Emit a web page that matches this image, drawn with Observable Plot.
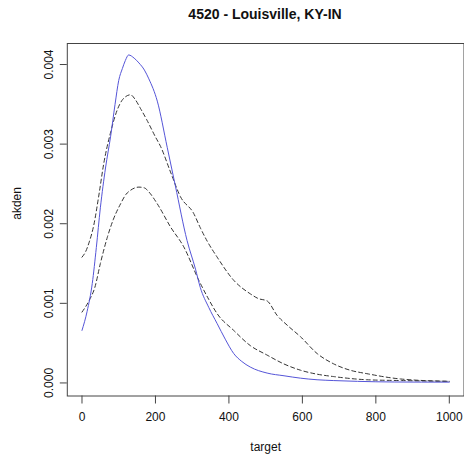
<!DOCTYPE html>
<html><head><meta charset="utf-8">
<script src="https://cdn.jsdelivr.net/npm/d3@7"></script>
<script src="https://cdn.jsdelivr.net/npm/@observablehq/plot@0.6"></script>
<style>
body{margin:0;background:#fff;font-family:"Liberation Sans",Arial,sans-serif;}
#title{height:30px;width:464px;position:relative;}
#title span{position:absolute;left:265px;top:5.6px;transform:translateX(-50%);font-weight:bold;font-size:14px;white-space:nowrap;color:#111;}
</style></head><body>
<div id="title"><span>4520 - Louisville, KY-IN</span></div>
<div id="chart"></div>
<script>
const titleText = "4520 - Louisville, KY-IN";
const xLabel = "target";
const yLabel = "akden";
const xTicks = [0, 200, 400, 600, 800, 1000];
const yTicks = [0, 0.001, 0.002, 0.003, 0.004];

// solid blue curve
const blueX = [0, 14, 28, 39, 50, 64, 78, 90, 100, 110, 118, 127, 142, 155, 170, 182, 205, 232, 254, 286, 309, 322, 345, 368, 390, 413, 435, 458, 504, 550, 595, 640, 684, 750, 850, 1000];
const blueY = [0.00066, 0.0009, 0.00125, 0.0017, 0.0022, 0.0027, 0.0031, 0.0035, 0.0038, 0.00395, 0.00405, 0.00412, 0.00408, 0.00402, 0.00393, 0.00382, 0.00354, 0.00296, 0.00248, 0.00179, 0.00143, 0.0012, 0.00095, 0.000745, 0.00055, 0.00037, 0.00027, 0.0002, 0.000124, 0.00009, 0.00006, 0.00004, 0.00003, 0.00002, 0.000012, 0.00001];

// upper dashed curve
const upperX = [0, 10, 19, 32, 46, 59, 78, 96, 109, 120, 132, 145, 159, 177, 200, 214, 241, 268, 304, 322, 341, 368, 413, 458, 480, 504, 531, 560, 595, 640, 685, 730, 776, 867, 1000];
const upperY = [0.00158, 0.00165, 0.00176, 0.00198, 0.00236, 0.00275, 0.00315, 0.00343, 0.00355, 0.0036, 0.00362, 0.00356, 0.00345, 0.0033, 0.00309, 0.00297, 0.00265, 0.00234, 0.00213, 0.00195, 0.00178, 0.00158, 0.00129, 0.00112, 0.00106, 0.00103, 0.00085, 0.00072, 0.00058, 0.00037, 0.00024, 0.00016, 0.000116, 0.00005, 0.00002];

// lower dashed curve
const lowerX = [0, 20, 35, 50, 69, 85, 105, 120, 132, 155, 170, 182, 205, 241, 277, 318, 345, 368, 413, 458, 504, 549, 595, 640, 685, 776, 870, 1000];
const lowerY = [0.00089, 0.00104, 0.0012, 0.0015, 0.00183, 0.00205, 0.00225, 0.00237, 0.00242, 0.00246, 0.00245, 0.0024, 0.00225, 0.00196, 0.00171, 0.00129, 0.00105, 0.00087, 0.00066, 0.00047, 0.00035, 0.00024, 0.00016, 0.00011, 0.00008, 0.00004, 0.00003, 0.00002];

const toRows = (xs, ys) => xs.map((x, i) => ({x, y: ys[i]}));
const blue = toRows(blueX, blueY);
const upper = toRows(upperX, upperY);
const lower = toRows(lowerX, lowerY);

const font = "Liberation Sans, Arial, sans-serif";
const chart = Plot.plot({
  width: 464,
  height: 431,
  marginLeft: 66.8,
  marginRight: 0.5,
  marginTop: 13,
  marginBottom: 65.5,
  style: {fontFamily: font, fontSize: "12px", background: "#fff", color: "#111"},
  x: {domain: [-40, 1040]},
  y: {domain: [-0.000164, 0.004264]},
  marks: [
    Plot.frame({stroke: "#444"}),
    Plot.axisX({ticks: xTicks, tickSize: 8, tickPadding: 8, label: null, tickFormat: d3.format("d"), stroke: "#444"}),
    Plot.axisY({ticks: yTicks, tickSize: 7, tickPadding: 7.5, tickRotate: -90, label: null, tickFormat: d3.format(".3f"), stroke: "#444"}),
    Plot.line(upper, {x: "x", y: "y", stroke: "#333", strokeWidth: 1, strokeDasharray: "4,3", curve: "monotone-x"}),
    Plot.line(lower, {x: "x", y: "y", stroke: "#333", strokeWidth: 1, strokeDasharray: "4,3", curve: "monotone-x"}),
    Plot.line(blue, {x: "x", y: "y", stroke: "#5555d8", strokeWidth: 1, curve: "monotone-x"}),
    Plot.text([xLabel], {text: d => d, frameAnchor: "bottom", dy: 51, lineAnchor: "middle", fontSize: 12}),
    Plot.text([yLabel], {text: d => d, frameAnchor: "left", dx: -50, rotate: -90, lineAnchor: "middle", fontSize: 12})
  ]
});
document.getElementById("chart").appendChild(chart);
</script>
</body></html>
